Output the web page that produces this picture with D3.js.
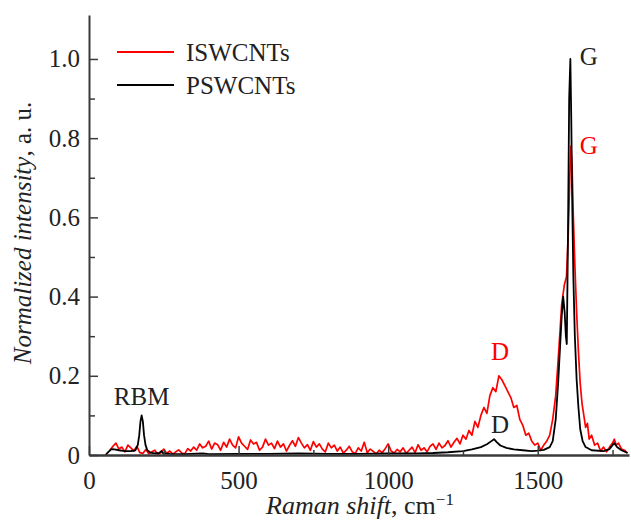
<!DOCTYPE html>
<html>
<head>
<meta charset="utf-8">
<script src="https://cdn.jsdelivr.net/npm/d3@7"></script>
<style>
  body { margin: 0; background: #fff; }
  svg { display: block; font-family: "Liberation Serif", "Times New Roman", serif; }
</style>
</head>
<body>
<div id="container"></div>
<script>
let w = 631;
let h = 521;

// Raman shift (cm-1), normalized intensity
let iswcnts = [
  [70,0.012],[80,0.022],[90,0.03],[100,0.015],[110,0.02],[120,0.008],[130,0.025],[140,0.018],
  [150,0.01],[160,0.022],[170,0.006],[180,0.004],[190,0.014],[200,0.003],[210,0.008],[220,0.012],
  [230,0.002],[240,0.006],[250,0.015],[260,0.004],[270,0.01],[280,0.002],[290,0.008],[300,0.013],
  [310,0.005],[320,0.003],[330,0.016],[340,0.01],[350,0.02],[360,0.012],[370,0.028],[380,0.018],
  [390,0.022],[400,0.035],[410,0.015],[420,0.03],[430,0.026],[440,0.012],[450,0.032],[460,0.02],
  [470,0.04],[480,0.025],[490,0.018],[500,0.046],[510,0.03],[520,0.022],[530,0.014],[540,0.038],
  [550,0.028],[560,0.032],[570,0.012],[580,0.02],[590,0.04],[600,0.025],[610,0.03],[620,0.016],
  [630,0.035],[640,0.02],[650,0.028],[660,0.01],[670,0.024],[680,0.036],[690,0.022],[700,0.044],
  [710,0.03],[720,0.018],[730,0.026],[740,0.012],[750,0.034],[760,0.02],[770,0.028],[780,0.015],
  [790,0.008],[800,0.03],[810,0.018],[820,0.025],[830,0.01],[840,0.02],[850,0.005],[860,0.012],
  [870,0.022],[880,0.008],[890,0.004],[900,0.018],[910,0.01],[920,0.032],[930,0.006],[940,0.015],
  [950,0.009],[960,0.003],[970,0.012],[980,0.006],[990,0.016],[1000,0.028],[1010,0.01],[1020,0.005],
  [1030,0.014],[1040,0.008],[1050,0.018],[1060,0.004],[1070,0.012],[1080,0.02],[1090,0.006],[1100,0.026],
  [1110,0.012],[1120,0.018],[1130,0.008],[1140,0.022],[1150,0.028],[1160,0.014],[1170,0.03],[1180,0.018],
  [1190,0.024],[1200,0.036],[1210,0.02],[1220,0.032],[1230,0.042],[1240,0.028],[1250,0.05],[1260,0.04],
  [1270,0.062],[1280,0.05],[1290,0.085],[1300,0.07],[1310,0.1],[1320,0.12],[1330,0.105],[1340,0.15],
  [1350,0.17],[1360,0.16],[1370,0.2],[1380,0.19],[1390,0.175],[1400,0.16],[1410,0.145],[1420,0.12],
  [1430,0.125],[1440,0.09],[1450,0.075],[1460,0.05],[1470,0.055],[1480,0.035],[1490,0.025],[1500,0.03],
  [1510,0.012],[1520,0.025],[1530,0.035],[1540,0.05],[1550,0.09],[1560,0.15],[1570,0.26],[1580,0.38],
  [1589,0.43],[1596,0.45],[1602,0.56],[1607,0.7],[1611,0.78],[1615,0.72],[1619,0.6],[1624,0.48],
  [1630,0.36],[1636,0.26],[1642,0.18],[1648,0.13],[1654,0.1],[1660,0.07],[1666,0.08],[1672,0.04],
  [1680,0.05],[1690,0.025],[1700,0.03],[1710,0.01],[1720,0.02],[1730,0.008],[1740,0.02],[1750,0.03],
  [1756,0.04],[1762,0.025],[1770,0.03],[1780,0.015],[1790,0.012],[1800,0.005]
];

let pswcnts = [
  [55,0],[65,0.008],[75,0.015],[85,0.014],[100,0.012],[120,0.01],[140,0.01],[155,0.012],
  [163,0.025],[168,0.05],[172,0.085],[176,0.1],[180,0.085],[184,0.05],[189,0.025],[195,0.012],
  [205,0.006],[220,0.004],[235,0.005],[242,0.01],[248,0.004],[270,0.003],[320,0.002],[380,0.004],
  [400,0.002],[500,0.003],[600,0.003],[700,0.004],[800,0.003],[900,0.003],[1000,0.004],[1100,0.004],
  [1150,0.005],[1200,0.007],[1250,0.01],[1280,0.014],[1310,0.02],[1330,0.027],[1345,0.035],[1354,0.04],
  [1362,0.033],[1375,0.024],[1395,0.018],[1420,0.014],[1450,0.012],[1480,0.01],[1500,0.011],[1520,0.013],
  [1540,0.02],[1550,0.035],[1560,0.09],[1568,0.18],[1575,0.28],[1580,0.35],[1585,0.4],[1590,0.36],
  [1594,0.3],[1597,0.28],[1601,0.55],[1605,0.9],[1609,1.0],[1612,0.85],[1615,0.65],[1619,0.45],
  [1624,0.3],[1630,0.19],[1636,0.12],[1642,0.065],[1650,0.035],[1660,0.02],[1680,0.012],[1720,0.01],
  [1740,0.015],[1750,0.025],[1756,0.03],[1765,0.02],[1780,0.012],[1800,0.005]
];

let seriesNames = ["ISWCNTs", "PSWCNTs"];
let seriesColors = ["#ff0000", "#000000"];
let xTicks = [0, 500, 1000, 1500];
let xMinorTicks = [250, 750, 1250, 1750];
let yTicks = [0, 0.2, 0.4, 0.6, 0.8, 1.0];
let yMinorTicks = [0.1, 0.3, 0.5, 0.7, 0.9];
// peak labels: [text, shift, intensity, color]
let peakLabels = [
  ["RBM", 176, 0.125, "#222"],
  ["D", 1374, 0.24, "#ff0000"],
  ["D", 1374, 0.055, "#222"],
  ["G", 1640, 0.985, "#222"],
  ["G", 1640, 0.76, "#ff0000"]
];

let viz = d3.select("#container").append("svg")
    .attr("width", w)
    .attr("height", h);

let xScale = d3.scaleLinear().domain([0, 1805]).range([89, 629]);
let yScale = d3.scaleLinear().domain([0, 1.111]).range([455, 15]);

let line = d3.line()
    .x(d => xScale(d[0]))
    .y(d => yScale(d[1]));

viz.append("path").datum(iswcnts)
    .attr("d", line).attr("fill", "none")
    .attr("stroke", seriesColors[0]).attr("stroke-width", 1.7)
    .attr("stroke-linejoin", "round");
viz.append("path").datum(pswcnts)
    .attr("d", line).attr("fill", "none")
    .attr("stroke", seriesColors[1]).attr("stroke-width", 1.8)
    .attr("stroke-linejoin", "round");

// axes, ticks inside
let xAxisGroup = viz.append("g").attr("transform", "translate(0,455)");
xAxisGroup.call(d3.axisBottom(xScale).tickValues(xTicks).tickSizeInner(-9).tickSizeOuter(0).tickPadding(16)
    .tickFormat(d3.format("d")));
let xMinor = viz.append("g").attr("transform", "translate(0,455)");
xMinor.call(d3.axisBottom(xScale).tickValues(xMinorTicks).tickSizeInner(-5).tickSizeOuter(0).tickFormat(""));

let yAxisGroup = viz.append("g").attr("transform", "translate(89,0)");
yAxisGroup.call(d3.axisLeft(yScale).tickValues(yTicks).tickSizeInner(-9).tickSizeOuter(0).tickPadding(9)
    .tickFormat(d => d == 0 ? "0" : d3.format(".1f")(d)));
let yMinor = viz.append("g").attr("transform", "translate(89,0)");
yMinor.call(d3.axisLeft(yScale).tickValues(yMinorTicks).tickSizeInner(-6).tickSizeOuter(0).tickFormat(""));

viz.selectAll(".domain").attr("stroke", "#3a3a3a");
xAxisGroup.select(".domain").attr("stroke-width", 2.6);
yAxisGroup.select(".domain").attr("stroke-width", 2);
xMinor.select(".domain").remove();
yMinor.select(".domain").remove();
viz.selectAll(".tick line").attr("stroke", "#3a3a3a").attr("stroke-width", 1.5);
viz.selectAll(".tick text")
    .attr("font-family", "Liberation Serif")
    .attr("font-size", 25)
    .attr("fill", "#222");

// axis titles
viz.append("text")
    .attr("x", 360).attr("y", 514)
    .attr("text-anchor", "middle")
    .attr("font-size", 26).attr("fill", "#222")
    .call(t => {
      t.append("tspan").attr("font-style", "italic").text("Raman shift");
      t.append("tspan").text(", cm");
      t.append("tspan").attr("font-size", 17).attr("dy", -9).text("\u22121");
    });

viz.append("text")
    .attr("transform", "translate(31,233) rotate(-90)")
    .attr("text-anchor", "middle")
    .attr("font-size", 25).attr("fill", "#222")
    .call(t => {
      t.append("tspan").attr("font-style", "italic").text("Normalized intensity");
      t.append("tspan").text(", a. u.");
    });

// legend
seriesNames.forEach((name, i) => {
  let ly = 52 + i * 33;
  viz.append("line")
      .attr("x1", 117).attr("x2", 174).attr("y1", ly).attr("y2", ly)
      .attr("stroke", seriesColors[i]).attr("stroke-width", 2);
  viz.append("text")
      .attr("x", 186).attr("y", ly + 9)
      .attr("font-size", 25).attr("fill", "#222")
      .text(name);
});

// peak labels
viz.selectAll(".peak").data(peakLabels).enter().append("text")
    .attr("class", "peak")
    .attr("x", d => xScale(d[1]))
    .attr("y", d => yScale(d[2]))
    .attr("text-anchor", d => d[0] == "G" ? "start" : "middle")
    .attr("font-size", 25)
    .attr("fill", d => d[3])
    .text(d => d[0]);
</script>
</body>
</html>
